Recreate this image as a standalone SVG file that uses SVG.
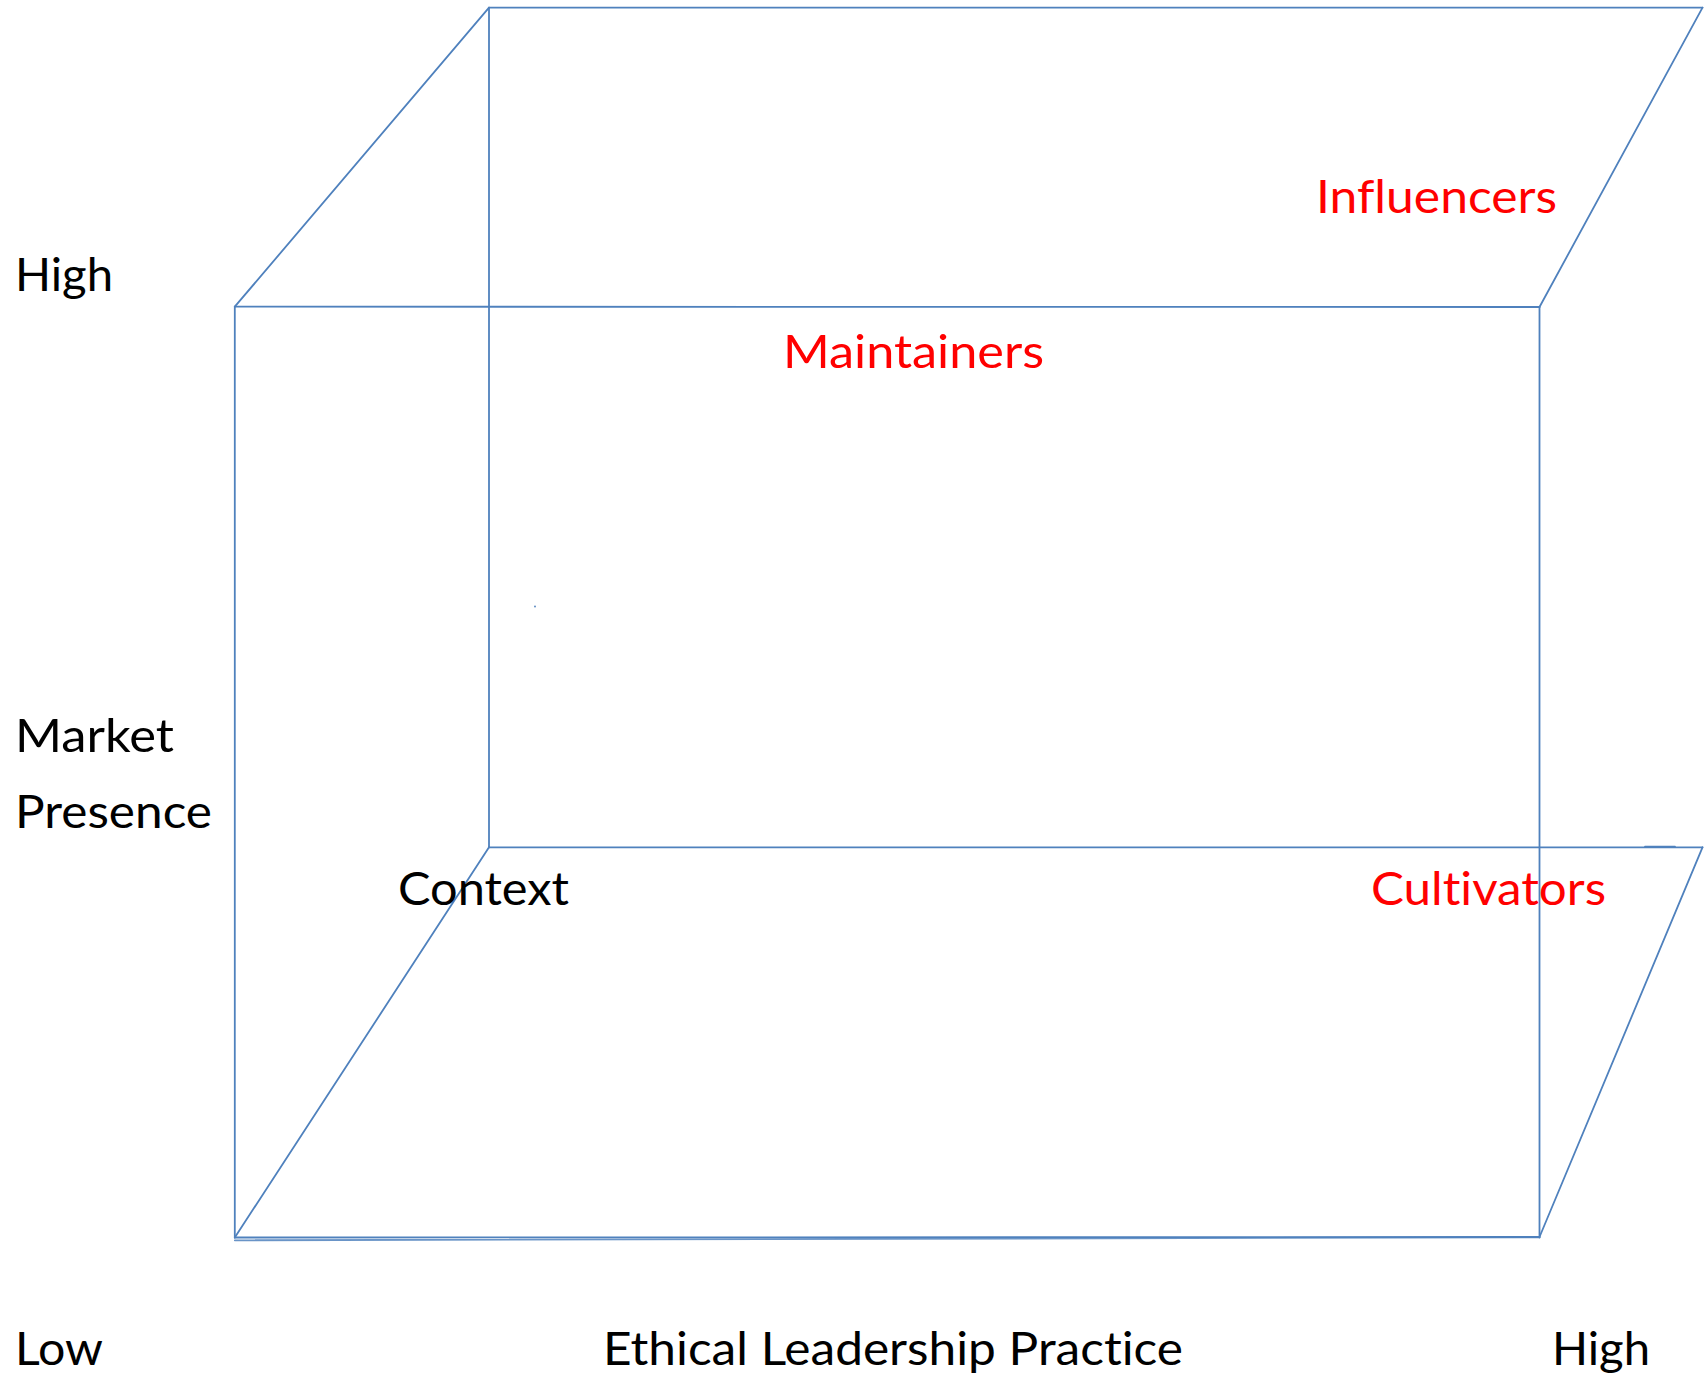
<svg xmlns="http://www.w3.org/2000/svg" width="1704" height="1375" viewBox="0 0 1704 1375">
  <style>
    .edge { stroke: #4F81BD; stroke-width: 1.8; fill: none; stroke-linecap: round; }
    .lbl { font-family: Lato, "Open Sans", "Liberation Sans", sans-serif; font-size: 46px; fill: #000000; font-variant-ligatures: none; font-feature-settings: "liga" 0; }
    .red { fill: #FF0000; }
  </style>
  <rect x="0" y="0" width="1704" height="1375" fill="#FFFFFF"/>
  <g id="cube">
    <!-- back face -->
    <line class="edge" x1="489" y1="7.6" x2="1702.5" y2="7.6"/>
    <line class="edge" x1="489" y1="7.6" x2="489" y2="847.3"/>
    <line class="edge" x1="489" y1="847.3" x2="1702.5" y2="847.3"/>
    <line class="edge" x1="1645" y1="846.6" x2="1675" y2="846.6" stroke-width="2.6"/>
    <!-- front face -->
    <line class="edge" x1="234.8" y1="306.7" x2="1539.5" y2="307"/>
    <line class="edge" x1="234.8" y1="306.7" x2="234.8" y2="1237.5"/>
    <line class="edge" x1="1539.5" y1="307" x2="1539.5" y2="1237.5"/>
    <line class="edge" x1="234.8" y1="1237.5" x2="1539.5" y2="1237"/>
    <line class="edge" x1="234.8" y1="1240.3" x2="1539.5" y2="1237.3" stroke-width="1.6" opacity="0.85"/>
    <!-- connecting diagonals -->
    <line class="edge" x1="489" y1="7.6" x2="234.8" y2="306.7"/>
    <line class="edge" x1="1702.5" y1="7.6" x2="1539.5" y2="307"/>
    <line class="edge" x1="489" y1="847.3" x2="234.8" y2="1237.5"/>
    <line class="edge" x1="1702.5" y1="847.3" x2="1539.5" y2="1237"/>
    <circle cx="535" cy="606.5" r="0.9" fill="#4F81BD"/>
  </g>
  <g id="label-high-y"><text class="lbl" x="15" y="291" textLength="98" lengthAdjust="spacingAndGlyphs">High</text></g>
  <g id="label-maintainers"><text class="lbl red" x="783" y="368" textLength="261" lengthAdjust="spacingAndGlyphs">Maintainers</text></g>
  <g id="label-influencers"><text class="lbl red" x="1316" y="213" textLength="241" lengthAdjust="spacingAndGlyphs">Influencers</text></g>
  <g id="label-market-presence">
    <text class="lbl" x="15" y="752" textLength="159" lengthAdjust="spacingAndGlyphs">Market</text>
    <text class="lbl" x="15" y="828" textLength="197" lengthAdjust="spacingAndGlyphs">Presence</text>
  </g>
  <g id="label-context"><text class="lbl" x="398" y="905" textLength="171" lengthAdjust="spacingAndGlyphs">Context</text></g>
  <g id="label-cultivators"><text class="lbl red" x="1371" y="905" textLength="235" lengthAdjust="spacingAndGlyphs">Cultivators</text></g>
  <g id="label-low"><text class="lbl" x="15" y="1365" textLength="88" lengthAdjust="spacingAndGlyphs">Low</text></g>
  <g id="label-x-axis"><text class="lbl" x="603" y="1365" textLength="580" lengthAdjust="spacingAndGlyphs">Ethical Leadership Practice</text></g>
  <g id="label-high-x"><text class="lbl" x="1552" y="1365" textLength="98" lengthAdjust="spacingAndGlyphs">High</text></g>
</svg>
